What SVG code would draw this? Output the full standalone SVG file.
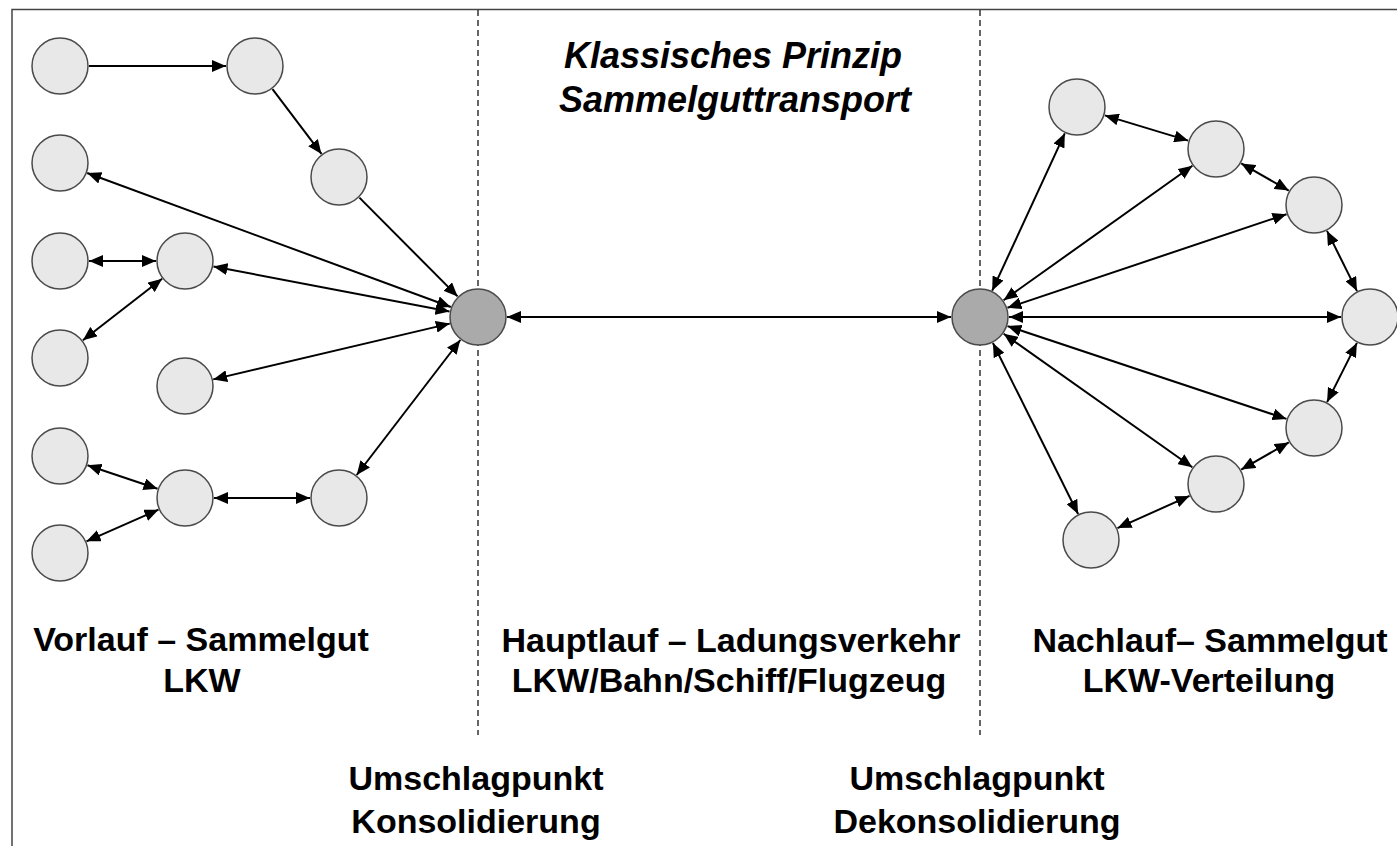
<svg xmlns="http://www.w3.org/2000/svg" width="1397" height="846" viewBox="0 0 1397 846">
<defs>
<marker id="ah" markerUnits="userSpaceOnUse" markerWidth="14" markerHeight="12" refX="14" refY="6" orient="auto-start-reverse">
<path d="M0,0 L14,6 L0,12 z" fill="#000"/>
</marker>
<style>
.n{fill:#e8e8e8;stroke:#4a4a4a;stroke-width:1.5}
.h{fill:#aaaaaa;stroke:#4a4a4a;stroke-width:1.5}
.c line{stroke:#000;stroke-width:2}
.s{marker-end:url(#ah)}
.d{marker-start:url(#ah);marker-end:url(#ah)}
.t{font-family:"Liberation Sans",Arial,sans-serif;font-weight:bold;font-size:34px;fill:#000;text-anchor:middle}
.ti{font-family:"Liberation Sans",Arial,sans-serif;font-weight:bold;font-style:italic;font-size:36px;fill:#000;text-anchor:middle}
.dash{stroke:#333;stroke-width:1.5;stroke-dasharray:6,4;fill:none}
</style>
</defs>
<rect width="1397" height="846" fill="#fff"/>
<path d="M12,850 L12,9.5 L1400,9.5" fill="none" stroke="#444" stroke-width="1.5"/>
<line class="dash" x1="478" y1="10" x2="478" y2="735"/>
<line class="dash" x1="980" y1="10" x2="980" y2="735"/>

<g id="connectors" class="c">
<line class="s" x1="89" y1="66" x2="226" y2="66"/>
<line class="s" x1="272.5" y1="89.1" x2="321.5" y2="153.9"/>
<line class="s" x1="359.4" y1="197.6" x2="457.6" y2="296.4"/>
<line class="d" x1="87.2" y1="173" x2="450.8" y2="307"/>
<line class="d" x1="89" y1="261" x2="156" y2="261"/>
<line class="d" x1="213.5" y1="266.4" x2="449.5" y2="311.6"/>
<line class="d" x1="162.1" y1="278.8" x2="82.9" y2="340.2"/>
<line class="d" x1="213.2" y1="379.4" x2="449.8" y2="323.6"/>
<line class="d" x1="356.7" y1="475" x2="460.3" y2="340"/>
<line class="d" x1="214" y1="498" x2="310" y2="498"/>
<line class="d" x1="87.5" y1="465.2" x2="157.5" y2="488.8"/>
<line class="d" x1="86.5" y1="541.3" x2="158.5" y2="509.7"/>
<line class="d" x1="507" y1="317" x2="951" y2="317"/>
<line class="d" x1="992.2" y1="290.7" x2="1064.8" y2="133.3"/>
<line class="d" x1="1003.6" y1="300.2" x2="1192.4" y2="165.8"/>
<line class="d" x1="1007.5" y1="307.8" x2="1286.5" y2="214.2"/>
<line class="d" x1="1009" y1="317" x2="1341" y2="317"/>
<line class="d" x1="1007.5" y1="326.1" x2="1286.5" y2="418.9"/>
<line class="d" x1="1003.7" y1="333.8" x2="1192.3" y2="467.2"/>
<line class="d" x1="992.9" y1="343" x2="1078.1" y2="514"/>
<line class="d" x1="1104.8" y1="115.4" x2="1188.2" y2="140.6"/>
<line class="d" x1="1241.2" y1="163.4" x2="1288.8" y2="190.6"/>
<line class="d" x1="1327" y1="230.9" x2="1357" y2="291.1"/>
<line class="d" x1="1356.9" y1="342.9" x2="1327.1" y2="402.1"/>
<line class="d" x1="1288.8" y1="442.4" x2="1241.2" y2="469.6"/>
<line class="d" x1="1189.5" y1="495.9" x2="1117.5" y2="528.1"/>
</g>

<g id="nA1"><circle class="n" cx="60" cy="66" r="28"/></g>
<g id="nA2"><circle class="n" cx="255" cy="66" r="28"/></g>
<g id="nA3"><circle class="n" cx="339" cy="177" r="28"/></g>
<g id="nB1"><circle class="n" cx="60" cy="163" r="28"/></g>
<g id="nC1"><circle class="n" cx="60" cy="261" r="28"/></g>
<g id="nC2"><circle class="n" cx="185" cy="261" r="28"/></g>
<g id="nD1"><circle class="n" cx="60" cy="358" r="28"/></g>
<g id="nE1"><circle class="n" cx="185" cy="386" r="28"/></g>
<g id="nF1"><circle class="n" cx="60" cy="456" r="28"/></g>
<g id="nG1"><circle class="n" cx="185" cy="498" r="28"/></g>
<g id="nG2"><circle class="n" cx="339" cy="498" r="28"/></g>
<g id="nH1"><circle class="n" cx="60" cy="553" r="28"/></g>
<g id="hubL"><circle class="h" cx="478" cy="317" r="28"/></g>
<g id="hubR"><circle class="h" cx="980" cy="317" r="28"/></g>
<g id="nR1"><circle class="n" cx="1077" cy="107" r="28"/></g>
<g id="nR2"><circle class="n" cx="1216" cy="149" r="28"/></g>
<g id="nR3"><circle class="n" cx="1314" cy="205" r="28"/></g>
<g id="nR4"><circle class="n" cx="1370" cy="317" r="28"/></g>
<g id="nR5"><circle class="n" cx="1314" cy="428" r="28"/></g>
<g id="nR6"><circle class="n" cx="1216" cy="484" r="28"/></g>
<g id="nR7"><circle class="n" cx="1091" cy="540" r="28"/></g>

<g id="title">
<text class="ti" x="733" y="68">Klassisches Prinzip</text>
<text class="ti" x="735" y="112">Sammelguttransport</text>
</g>
<g id="labels">
<text class="t" x="201" y="651">Vorlauf – Sammelgut</text>
<text class="t" x="202" y="692">LKW</text>
<text class="t" x="731" y="652">Hauptlauf – Ladungsverkehr</text>
<text class="t" x="729" y="692">LKW/Bahn/Schiff/Flugzeug</text>
<text class="t" x="1210" y="652">Nachlauf– Sammelgut</text>
<text class="t" x="1209" y="692">LKW-Verteilung</text>
<text class="t" x="476" y="790">Umschlagpunkt</text>
<text class="t" x="476" y="833">Konsolidierung</text>
<text class="t" x="977" y="790">Umschlagpunkt</text>
<text class="t" x="977" y="833">Dekonsolidierung</text>
</g>
</svg>
